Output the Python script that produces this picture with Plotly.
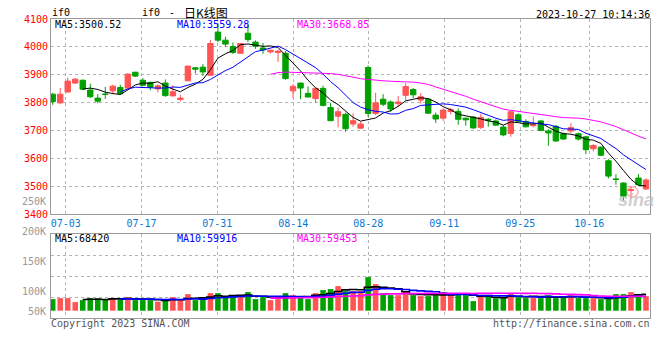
import pandas as pd
import plotly.graph_objects as go

# ---------------- data ----------------
tick_labels = ["07-03", "07-17", "07-31", "08-14", "08-28", "09-11", "09-25", "10-16"]

open_p = [3830, 3799, 3838, 3870, 3880, 3845, 3816, 3831, 3842, 3854,
          3852, 3909, 3880, 3872, 3849, 3870, 3824, 3811, 3878, 3925,
          3927, 3898, 4053, 4024, 4001, 3977, 4049, 4017, 3996, 3982,
          3980, 3977, 3842, 3870, 3833, 3814, 3851, 3782, 3751, 3758,
          3723, 3708, 3926, 3761, 3812, 3802, 3796, 3826, 3847, 3809,
          3812, 3755, 3744, 3768, 3768, 3744, 3748, 3711, 3740, 3734,
          3712, 3689, 3756, 3732, 3717, 3734, 3698, 3715, 3688, 3698,
          3688, 3677, 3634, 3640, 3591, 3526, 3511, 3484, 3529, 3490]
high_p = [3835, 3852, 3890, 3888, 3883, 3868, 3830, 3856, 3864, 3864,
          3906, 3910, 3888, 3876, 3866, 3883, 3862, 3827, 3931, 3928,
          3938, 4025, 4085, 4036, 4016, 4014, 4079, 4023, 4014, 3990,
          3990, 3985, 3866, 3871, 3858, 3854, 3861, 3799, 3782, 3764,
          3761, 3731, 3933, 3835, 3830, 3808, 3824, 3870, 3852, 3834,
          3816, 3764, 3779, 3781, 3779, 3746, 3752, 3760, 3745, 3740,
          3719, 3770, 3761, 3740, 3750, 3737, 3704, 3719, 3692, 3726,
          3692, 3681, 3651, 3643, 3597, 3543, 3514, 3501, 3543, 3528]
low_p = [3792, 3794, 3836, 3867, 3844, 3816, 3798, 3813, 3830, 3827,
         3849, 3892, 3858, 3844, 3836, 3821, 3822, 3804, 3877, 3904,
         3896, 3896, 4017, 3999, 3974, 3976, 4017, 3993, 3975, 3976,
         3946, 3882, 3817, 3812, 3819, 3799, 3786, 3734, 3711, 3695,
         3713, 3706, 3748, 3755, 3787, 3767, 3785, 3808, 3816, 3797,
         3758, 3727, 3734, 3758, 3720, 3717, 3705, 3705, 3713, 3718,
         3679, 3677, 3731, 3711, 3711, 3697, 3645, 3659, 3666, 3690,
         3664, 3615, 3625, 3608, 3528, 3505, 3448, 3456, 3500, 3486]
close_p = [3804, 3830, 3877, 3884, 3848, 3821, 3805, 3829, 3859, 3832,
           3902, 3895, 3862, 3855, 3860, 3825, 3839, 3816, 3931, 3920,
           3910, 4012, 4024, 4010, 3980, 4012, 4026, 4002, 3989, 3988,
           3984, 3886, 3858, 3852, 3820, 3851, 3790, 3735, 3767, 3706,
           3735, 3723, 3761, 3799, 3794, 3777, 3802, 3858, 3828, 3821,
           3762, 3741, 3773, 3774, 3740, 3738, 3709, 3746, 3737, 3719,
           3684, 3767, 3733, 3713, 3721, 3700, 3691, 3662, 3669, 3710,
           3669, 3631, 3646, 3611, 3536, 3524, 3464, 3487, 3505, 3522]
volume = [48100, 52300, 52300, 35700, 44000, 52300, 52300, 48100, 48100, 48100,
          56400, 44000, 44000, 44000, 37400, 44000, 56400, 44000, 68900, 44000,
          52300, 73000, 73000, 56400, 60600, 58100, 77200, 48100, 56400, 44000,
          48100, 73000, 64700, 60600, 48100, 73000, 85500, 89600, 102100, 81300,
          81300, 81300, 139400, 110400, 73000, 64700, 64700, 81300, 64700, 60600,
          60600, 64700, 77200, 64700, 73000, 64700, 39800, 60600, 60600, 52300,
          56400, 73000, 56400, 52300, 60600, 52300, 64700, 52300, 56400, 64700,
          52300, 52300, 52300, 48100, 48100, 68900, 68900, 77200, 64700, 60600]

ma_periods = [5, 10, 30]
price_ma_labels = ["MA5:3500.52", "MA10:3559.28", "MA30:3668.85"]
volume_ma_labels = ["MA5:68420", "MA10:59916", "MA30:59453"]
volume_axis_labels = ["250K", "200K", "150K", "100K", "50K"]
symbol = "if0"
title_cn = "日K线图"
timestamp = "2023-10-27 10:14:36"
copyright_text = "Copyright 2023 SINA.COM"
source_url = "http://finance.sina.com.cn"

# ---------------- layout geometry ----------------
W, H = 660, 360
ML, MR, MT, MB = 51, 10, 19, 42
PLOT_W = W - ML - MR
PLOT_H = H - MT - MB
CX0, DX = 52.7, 7.51          # first candle centre (px) and candle spacing (px)
VOL_BASE_PX, VOL_PER_PX = 310.7, 4150.0


def px_x(x):
    return (x - ML) / PLOT_W


def px_y(y):
    return (H - MB - y) / PLOT_H


x_range = [(ML - CX0) / DX, (W - MR - CX0) / DX]
tick_px = [65.7, 141.5, 217.3, 293.3, 368.3, 444.3, 520.3, 589.3]
tick_vals = [(p - CX0) / DX for p in tick_px]
vol_range = [-(H - MB - VOL_BASE_PX) * VOL_PER_PX, (VOL_BASE_PX - 234.3) * VOL_PER_PX]
vol_grid = [vol_range[0] + k * (vol_range[1] - vol_range[0]) / 4 for k in range(1, 4)]

RED, GREEN = "#ff5555", "#00a000"
MA_COLORS = ["#000000", "#0000ff", "#ff00ff"]
FRAME = "#9a9a9a"
GRID = "#b4b4b4"
MONO = "DejaVu Sans Mono"

n = len(close_p)
xs = list(range(n))
close_s = pd.Series(close_p, dtype=float)
vol_s = pd.Series(volume, dtype=float)

fig = go.Figure()
fig.add_trace(go.Candlestick(
    x=xs, open=open_p, high=high_p, low=low_p, close=close_p,
    increasing=dict(line=dict(color=RED, width=1), fillcolor=RED),
    decreasing=dict(line=dict(color=GREEN, width=1), fillcolor=GREEN),
    whiskerwidth=0, xaxis="x", yaxis="y", hoverinfo="skip"))

for period, col in zip(ma_periods, MA_COLORS):
    fig.add_trace(go.Scatter(x=xs, y=close_s.rolling(period).mean(), mode="lines",
                             line=dict(color=col, width=1), xaxis="x", yaxis="y",
                             hoverinfo="skip"))

bar_colors = [RED if c > o else GREEN for o, c in zip(open_p, close_p)]
fig.add_trace(go.Bar(x=xs, y=volume, marker=dict(color=bar_colors, line=dict(width=0)),
                     width=0.74, xaxis="x2", yaxis="y2", hoverinfo="skip"))
for period, col in zip(ma_periods, MA_COLORS):
    fig.add_trace(go.Scatter(x=xs, y=vol_s.rolling(period).mean(), mode="lines",
                             line=dict(color=col, width=1.6, shape="hvh"),
                             xaxis="x2", yaxis="y2", hoverinfo="skip"))

axis_common = dict(showline=True, mirror=True, linecolor=FRAME, linewidth=1,
                   showgrid=True, gridcolor=GRID, gridwidth=1, griddash="dot",
                   zeroline=False, ticks="", fixedrange=True, automargin=False)

fig.update_layout(
    width=W, height=H, margin=dict(l=ML, r=MR, t=MT, b=MB),
    paper_bgcolor="white", plot_bgcolor="white", showlegend=False,
    boxgap=0.2, boxgroupgap=0.1,
    xaxis=dict(domain=[0, 1], range=x_range, anchor="y", tickmode="array",
               tickvals=tick_vals, ticktext=tick_labels,
               tickfont=dict(family=MONO, size=10, color="#0a78d2"),
               rangeslider=dict(visible=False), **axis_common),
    yaxis=dict(domain=[px_y(214), 1], range=[3400, 4100], dtick=100, anchor="x",
               tickfont=dict(family=MONO, size=10, color="#ff0000"), **axis_common),
    xaxis2=dict(domain=[0, 1], range=x_range, anchor="y2", tickmode="array",
                tickvals=tick_vals, showticklabels=False, **axis_common),
    yaxis2=dict(domain=[0, px_y(234.3)], range=vol_range, anchor="x2",
                tickmode="array", tickvals=vol_grid, showticklabels=False, **axis_common),
)

ann = []


def text(x, y, s, color="#000000", size=10, anchor="left", family=MONO):
    ann.append(dict(x=px_x(x), y=px_y(y), xref="paper", yref="paper", text=s,
                    showarrow=False, xanchor=anchor, yanchor="middle",
                    font=dict(family=family, size=size, color=color), borderpad=0))


text(51, 12.8, symbol)
text(141, 12.8, symbol)
text(172, 12.8, "-", anchor="center")
text(183, 12.2, title_cn, size=12, family="Noto Sans CJK SC")
text(651, 14.5, timestamp, anchor="right")
for label, col, x in zip(price_ma_labels, MA_COLORS, [54, 175.5, 296]):
    text(x, 24.6, label, color=col)
for label, col, x in zip(volume_ma_labels, MA_COLORS, [54, 175.5, 296]):
    text(x, 238.7, label, color=col)
for label, y in zip(volume_axis_labels, [201, 231, 261, 291, 311]):
    text(47, y, label, color="#999999", anchor="right")
text(50, 323.5, copyright_text, color="#555555")
text(651, 323.5, source_url, color="#555555", anchor="right")
ann.append(dict(x=px_x(636), y=px_y(200), xref="paper", yref="paper", text="<b><i>sina</i></b>",
                showarrow=False, xanchor="center", yanchor="middle",
                font=dict(family="Liberation Sans", size=18, color="rgba(190,190,190,0.75)")))
fig.update_layout(annotations=ann)
fig.add_shape(type="circle", xref="paper", yref="paper",
              x0=px_x(627), x1=px_x(638), y0=px_y(197), y1=px_y(187),
              line=dict(color="rgba(255,110,110,0.55)", width=1.5), layer="below")

fig.write_html("out.html", config={"displayModeBar": False, "staticPlot": True},
               post_script="document.body.style.margin='0';document.body.style.padding='0';")
